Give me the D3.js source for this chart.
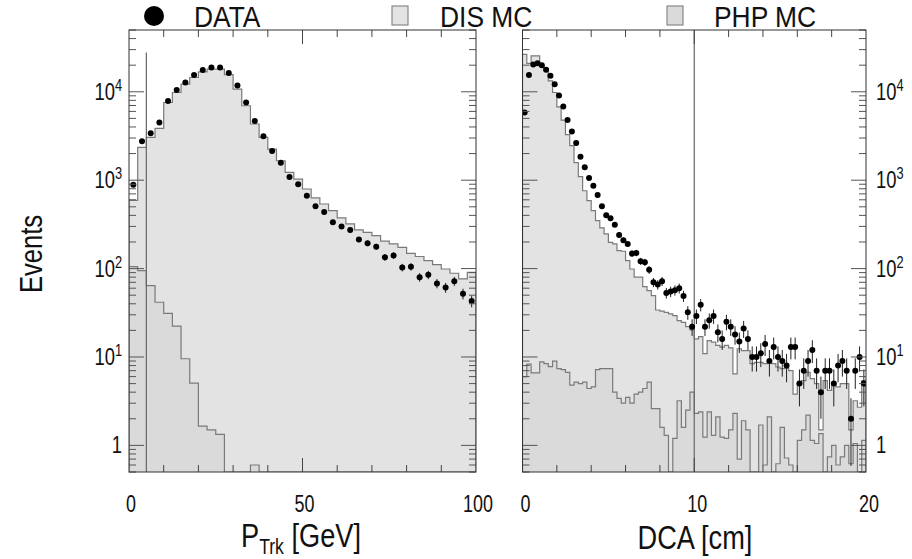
<!DOCTYPE html>
<html>
<head>
<meta charset="utf-8">
<script src="https://cdn.jsdelivr.net/npm/d3@7"></script>
<style>
  html, body { margin: 0; padding: 0; background: #fff; }
  svg { display: block; }
  text { font-family: "Liberation Sans", Arial, Helvetica, sans-serif; fill: #111; }
</style>
</head>
<body>
<svg id="chart" width="912" height="559"></svg>
<script>
// ---- Track momentum histogram (40 bins of 2.5 GeV, 0-100 GeV) ----
const ptrkData = [890, 2750, 3400, 4500, 7850, 10450, 12700, 15450, 17600, 18800,
  18800, 16300, 11800, 7570, 4670, 3150, 2140, 1580, 1090, 900,
  668, 506, 437, 334, 300, 274, 213, 193, 177, 134,
  141, 103, 105, 80, 85, 68, 61, 72, 52, 43];
const ptrkDis = [590, 2350, 3050, 3850, 7570, 9820, 12200, 14500, 16800, 18000,
  18000, 15600, 10700, 6950, 4320, 3050, 2250, 1660, 1225, 1030,
  795, 630, 538, 452, 374, 320, 274, 257, 236, 204,
  190, 174, 149, 137, 123, 111, 99, 88.6, 76.5, 90.8];
const ptrkPhp = [105, 95, 64, 41.6, 31.2, 22.3, 9.55, 5.06, 1.65, 1.5,
  1.33, 0, 0, 0, 0.6, 0, 0, 0, 0, 0,
  0, 0, 0, 0, 0, 0, 0, 0, 0, 0,
  0, 0, 0, 0, 0, 0, 0, 0, 0, 0];

// ---- Distance of closest approach histogram (80 bins of 0.25 cm, 0-20 cm) ----
const dcaData = [5840, 15450, 20400, 21000, 20000, 17700, 15200, 12200, 9080, 6820,
  4790, 3560, 2630, 1840, 1400, 1060, 867, 681, 506, 400,
  372, 313, 240, 209, 190, 148, 150, 121, 118, 97,
  70, 66, 72, 53, 55, 57, 60, 49, 32, 22,
  29, 39, 22, 26, 29, 19, 16, 25, 22, 18,
  15, 21, 16, 10, 10, 11, 14, 9, 13, 10,
  9, 8, 13, 13, 5, 7, 9, 12, 7, 4,
  7, 7, 5, 8, 9, 7, 2, 7, 10, 5];
const dcaDis = [26500, 21000, 25500, 25500, 19500, 17600, 13300, 9820, 6760, 4790,
  3270, 2460, 1580, 1096, 760, 586, 452, 348, 289, 247,
  198, 190, 160, 157, 123, 99, 80, 80, 62.6, 56.4,
  49.5, 34, 33, 32, 30.8, 29.4, 25.8, 24.7, 22.1, 20.3,
  16, 17, 10.9, 15.3, 14.7, 13.5, 12.9, 13.5, 12.7, 6.45,
  12.4, 11.8, 11.8, 8.4, 8.7, 8.7, 8.4, 8.7, 8.4, 7.7,
  7.4, 7.5, 7.0, 3.8, 5.0, 5.4, 6.7, 5.7, 5.0, 1.5,
  5.4, 4.2, 5.0, 4.6, 5.0, 5.0, 1.5, 3.2, 2.7, 5.4];
const dcaPhp = [6.0, 8.3, 6.6, 6.6, 8.8, 8.4, 7.8, 9.0, 7.4, 7.2,
  6.7, 4.8, 5.2, 5.0, 5.2, 4.4, 4.6, 7.2, 7.4, 7.4,
  7.4, 4.0, 3.4, 3.0, 3.5, 3.0, 3.8, 4.0, 4.4, 5.2,
  2.6, 2.6, 1.6, 1.3, 0, 1.2, 3.2, 1.6, 2.5, 4.0,
  2.3, 2.4, 1.24, 2.4, 1.3, 2.1, 1.24, 1.2, 1.5, 2.3,
  0.7, 1.9, 1.5, 0, 0, 1.7, 0.6, 2.1, 0, 0.62,
  1.6, 0.72, 0.6, 0, 1.14, 1.5, 2.2, 1.14, 1.05, 1.36,
  0, 0.74, 1.0, 0.6, 0.74, 1.0, 0.62, 1.05, 0, 1.14];

// ---- Axis settings ----
const ptrkRange = [0, 100], ptrkBin = 2.5;
const dcaRange = [0, 20], dcaBin = 0.25;
const ptrkCut = 5;          // GeV, lower momentum cut
const ptrkCutTop = 27800;   // events level where the cut line starts
const dcaCut = 10;          // cm
const yDomain = [0.5, 50000];
const yDecades = [1, 10, 100, 1000, 10000];
const yDecadeLabels = [["1", ""], ["10", "1"], ["10", "2"], ["10", "3"], ["10", "4"]];
const ptrkTicks = [0, 50, 100];
const dcaTicks = [0, 10, 20];
const legendItems = ["DATA", "DIS MC", "PHP MC"];

const svg = d3.select("#chart");
const plotTop = 30, plotBottom = 472;
const y = d3.scaleLog().domain(yDomain).range([plotBottom, plotTop]).clamp(true);
const xP = d3.scaleLinear().domain(ptrkRange).range([129, 476]);
const xD = d3.scaleLinear().domain(dcaRange).range([522.5, 866]);

const DIS_FILL = "#e3e3e3", PHP_FILL = "#dadada", LINE = "#7a7a7a";
const yv = v => y(v > 0 ? v : yDomain[0] * 0.5);

function condensedText(g, x, yy, anchor, size, sx, rot) {
  return g.append("text")
    .attr("transform", `translate(${x},${yy})${rot ? ` rotate(${rot})` : ""} scale(${sx},1)`)
    .attr("text-anchor", anchor)
    .attr("font-size", size);
}

function panel(id, x, binW, dis, php) {
  const g = svg.append("g");
  const [x0, x1] = x.range();
  g.append("clipPath").attr("id", "clip-" + id)
    .append("rect").attr("x", x0).attr("y", plotTop).attr("width", x1 - x0).attr("height", plotBottom - plotTop);
  const inner = g.append("g").attr("clip-path", `url(#clip-${id})`);

  const stepPts = vals => {
    const pts = [{ e: 0, v: 0 }];
    vals.forEach((v, i) => pts.push({ e: i * binW, v }));
    pts.push({ e: vals.length * binW, v: vals[vals.length - 1] });
    pts.push({ e: vals.length * binW, v: 0 });
    return pts;
  };
  const area = d3.area().x(d => x(d.e)).y0(plotBottom).y1(d => yv(d.v)).curve(d3.curveStepAfter);
  const line = d3.line().x(d => x(d.e)).y(d => yv(d.v)).curve(d3.curveStepAfter);

  [[dis, DIS_FILL], [php, PHP_FILL]].forEach(([vals, fill]) => {
    const pts = stepPts(vals);
    inner.append("path").attr("d", area(pts)).attr("fill", fill);
    inner.append("path").attr("d", line(pts)).attr("fill", "none")
      .attr("stroke", LINE).attr("stroke-width", 1.2);
  });
  return { g, inner };
}

function dataPoints(inner, x, binW, data) {
  data.forEach((v, i) => {
    const cx = x((i + 0.5) * binW);
    const err = Math.sqrt(v);
    inner.append("line")
      .attr("x1", cx).attr("x2", cx)
      .attr("y1", yv(v + err)).attr("y2", yv(Math.max(v - err, yDomain[0] * 0.5)))
      .attr("stroke", "#222").attr("stroke-width", 1);
    inner.append("circle").attr("cx", cx).attr("cy", yv(v)).attr("r", 3).attr("fill", "#000");
  });
}

function frameAndTicks(g, x, minorX, majorX, labelSide) {
  const [x0, x1] = x.range();
  // log y ticks on both vertical edges
  const minors = [];
  for (let d = 0.1; d <= 10000; d *= 10) for (let m = 1; m <= 9; m++) {
    const v = Math.round(d * m * 1000) / 1000;
    if (v >= yDomain[0] && v <= yDomain[1]) minors.push(v);
  }
  minors.forEach(v => {
    const major = yDecades.includes(v);
    const len = major ? 15 : 7;
    [[x0, 1], [x1, -1]].forEach(([ex, dir]) => {
      g.append("line").attr("x1", ex).attr("x2", ex + dir * len)
        .attr("y1", y(v)).attr("y2", y(v)).attr("stroke", "#555").attr("stroke-width", 1);
    });
  });
  // x ticks top and bottom
  minorX.forEach(v => {
    const len = majorX.includes(v) ? 14 : 7;
    [[plotTop, 1], [plotBottom, -1]].forEach(([ey, dir]) => {
      g.append("line").attr("x1", x(v)).attr("x2", x(v))
        .attr("y1", ey).attr("y2", ey + dir * len).attr("stroke", "#444").attr("stroke-width", 1);
    });
  });
  g.append("rect").attr("x", x0).attr("y", plotTop).attr("width", x1 - x0).attr("height", plotBottom - plotTop)
    .attr("fill", "none").attr("stroke", "#333").attr("stroke-width", 1);

  // y tick labels
  yDecades.forEach((v, i) => {
    const [base, sup] = yDecadeLabels[i];
    const t = labelSide === "left"
      ? condensedText(g, x0 - 7, y(v) + 8, "end", 23, 0.8)
      : condensedText(g, x1 + 10, y(v) + 8, "start", 23, 0.8);
    t.append("tspan").text(base);
    if (sup) t.append("tspan").attr("font-size", 16).attr("dy", -9).text(sup);
  });
}

// ---- Left panel: track momentum ----
const left = panel("ptrk", xP, ptrkBin, ptrkDis, ptrkPhp);
left.inner.append("line").attr("x1", xP(ptrkCut)).attr("x2", xP(ptrkCut))
  .attr("y1", y(ptrkCutTop)).attr("y2", plotBottom).attr("stroke", "#666").attr("stroke-width", 1.2);
dataPoints(left.inner, xP, ptrkBin, ptrkData);
frameAndTicks(left.g, xP, d3.range(10, 100, 10), [50], "left");
ptrkTicks.forEach(v => condensedText(svg, xP(v) + 2, 512, "middle", 23, 0.78).text(v));

// ---- Right panel: DCA ----
const right = panel("dca", xD, dcaBin, dcaDis, dcaPhp);
right.inner.append("line").attr("x1", xD(dcaCut)).attr("x2", xD(dcaCut))
  .attr("y1", plotTop).attr("y2", plotBottom).attr("stroke", "#666").attr("stroke-width", 1.2);
dataPoints(right.inner, xD, dcaBin, dcaData);
frameAndTicks(right.g, xD, d3.range(2, 20, 2), [10], "right");
dcaTicks.forEach(v => condensedText(svg, xD(v) + 3, 512, "middle", 23, 0.78).text(v));

// ---- Axis titles ----
const tP = condensedText(svg, 301, 547, "middle", 34, 0.8);
tP.append("tspan").text("P");
tP.append("tspan").attr("font-size", 22).attr("dy", 7).text("Trk");
tP.append("tspan").attr("dy", -7).text(" [GeV]");
condensedText(svg, 695, 549, "middle", 34, 0.8).text("DCA [cm]");
condensedText(svg, 42, 254, "middle", 32, 0.8, -90).text("Events");

// ---- Legend ----
svg.append("circle").attr("cx", 154).attr("cy", 16).attr("r", 10).attr("fill", "#000");
condensedText(svg, 194, 27, "start", 30, 0.88).text(legendItems[0]);
svg.append("rect").attr("x", 392).attr("y", 6).attr("width", 16).attr("height", 19)
  .attr("fill", DIS_FILL).attr("stroke", "#888").attr("stroke-width", 1.2);
condensedText(svg, 440, 27, "start", 30, 0.88).text(legendItems[1]);
svg.append("rect").attr("x", 667).attr("y", 6).attr("width", 16).attr("height", 19)
  .attr("fill", PHP_FILL).attr("stroke", "#888").attr("stroke-width", 1.2);
condensedText(svg, 714, 27, "start", 30, 0.88).text(legendItems[2]);
</script>
</body>
</html>
